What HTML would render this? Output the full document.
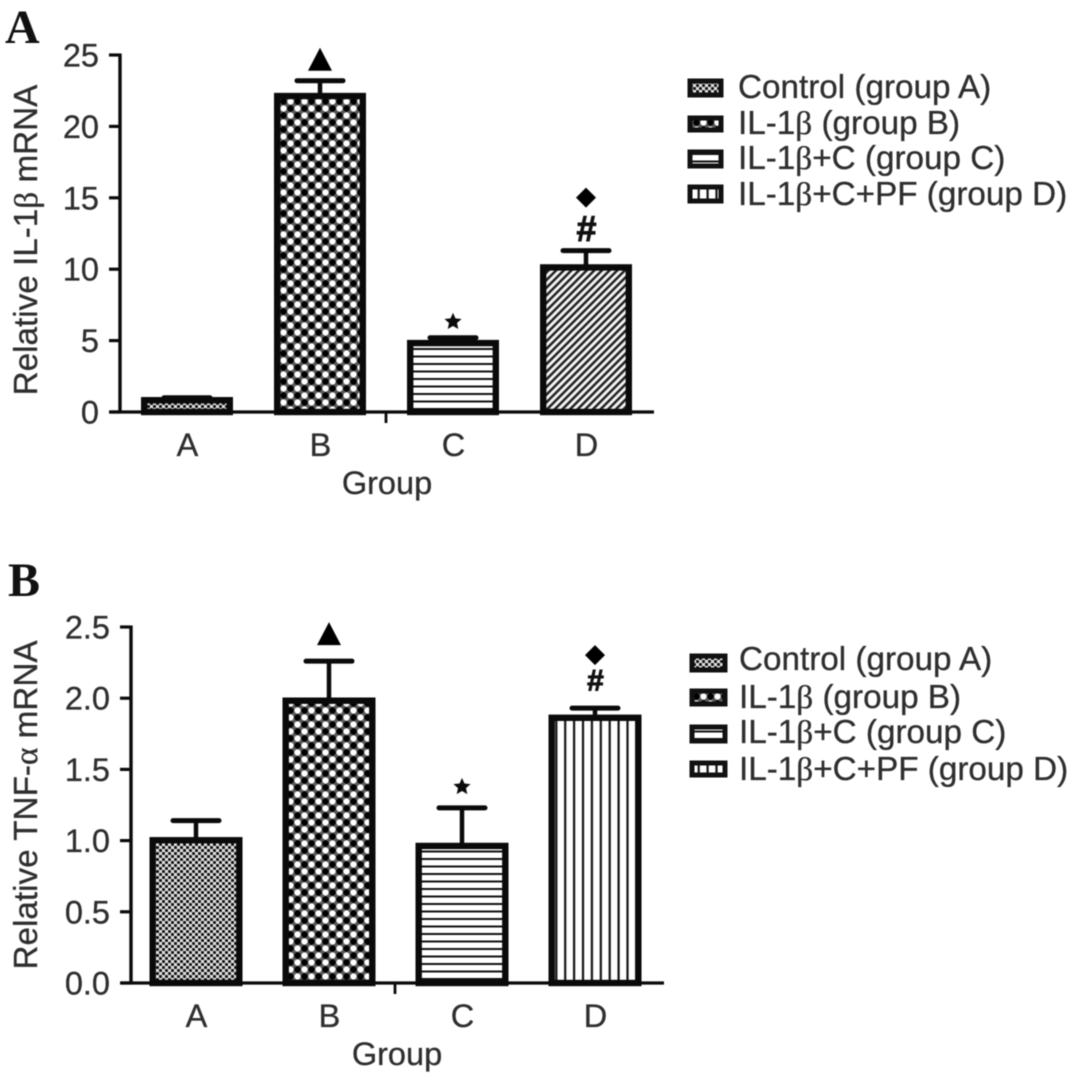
<!DOCTYPE html>
<html lang="en">
<head>
<meta charset="utf-8">
<title>Relative IL-1β and TNF-α mRNA by group</title>
<style>
html,body{margin:0;padding:0;background:#fff;}
svg{display:block;filter:blur(0.5px);}
text{font-family:"Liberation Sans",sans-serif;font-size:32.5px;fill:#2e2e2e;stroke:#2e2e2e;stroke-width:0.3px;}
.wide{font-size:33.25px;}
.serif{font-family:"Liberation Serif",serif;}
.letter{font-family:"Liberation Serif",serif;font-weight:bold;font-size:48px;fill:#111;stroke:none;}
</style>
</head>
<body>
<svg id="figure" xmlns="http://www.w3.org/2000/svg" width="1078" height="1085" viewBox="0 0 1078 1085">
<defs>
<pattern id="pat-fine" patternUnits="userSpaceOnUse" width="6" height="6">
<rect width="6" height="6" fill="#e6e6e6"/>
<circle cx="1.5" cy="1.5" r="1.6" fill="#111"/>
<circle cx="4.5" cy="4.5" r="1.6" fill="#111"/>
</pattern>
<pattern id="pat-coarse" patternUnits="userSpaceOnUse" width="14" height="14">
<rect width="14" height="14" fill="#5a5a5a"/>
<circle cx="10.5" cy="3.5" r="3.1" fill="#fff"/>
<circle cx="3.5" cy="10.5" r="3.1" fill="#fff"/>
<circle cx="3.5" cy="3.5" r="3.2" fill="#000"/>
<circle cx="10.5" cy="10.5" r="3.2" fill="#000"/>
</pattern>
<pattern id="pat-horizontal" patternUnits="userSpaceOnUse" width="8" height="7.5">
<rect width="8" height="7.5" fill="#fff"/>
<rect y="3" width="8" height="2" fill="#111"/>
</pattern>
<pattern id="pat-diagonal" patternUnits="userSpaceOnUse" width="5.4" height="5.4" patternTransform="rotate(45)">
<rect width="5.4" height="5.4" fill="#f4f4f4"/>
<rect width="2.5" height="5.4" fill="#222"/>
</pattern>
<pattern id="pat-vertical" patternUnits="userSpaceOnUse" width="8.9" height="8">
<rect width="8.9" height="8" fill="#fff"/>
<rect x="3.4" width="2.2" height="8" fill="#111"/>
</pattern>
</defs>

<g id="panel-a">
<text class="letter" x="5" y="43">A</text>
<text class="wide" transform="translate(37,240) rotate(-90)" text-anchor="middle">Relative IL-1<tspan class="serif">β</tspan> mRNA</text>
<text x="387" y="494" text-anchor="middle">Group</text>
<g>
<rect x="690" y="81" width="31" height="14" fill="url(#pat-fine)" stroke="#111" stroke-width="5"/>
<text class="wide" x="738" y="98">Control (group A)</text>
<rect x="690" y="118" width="31" height="12" fill="url(#pat-coarse)" stroke="#111" stroke-width="5"/>
<text class="wide" x="738" y="134">IL-1<tspan class="serif">β</tspan> (group B)</text>
<rect x="690" y="152" width="31" height="14" fill="url(#pat-horizontal)" stroke="#111" stroke-width="5"/>
<text class="wide" x="738" y="169">IL-1<tspan class="serif">β</tspan>+C (group C)</text>
<rect x="690" y="187" width="31" height="14" fill="url(#pat-vertical)" stroke="#111" stroke-width="5"/>
<text class="wide" x="738" y="205">IL-1<tspan class="serif">β</tspan>+C+PF (group D)</text>
</g>
</g>

<g id="panel-b">
<text class="letter" x="8" y="596">B</text>
<text class="wide" transform="translate(37,805) rotate(-90)" text-anchor="middle">Relative TNF-<tspan class="serif">α</tspan> mRNA</text>
<text x="397" y="1065" text-anchor="middle">Group</text>
<g>
<rect x="692" y="656" width="33" height="14" fill="url(#pat-fine)" stroke="#111" stroke-width="5"/>
<text class="wide" x="739" y="670">Control (group A)</text>
<rect x="692" y="691" width="33" height="13" fill="url(#pat-coarse)" stroke="#111" stroke-width="5"/>
<text class="wide" x="739" y="708">IL-1<tspan class="serif">β</tspan> (group B)</text>
<rect x="692" y="727" width="33" height="14" fill="url(#pat-horizontal)" stroke="#111" stroke-width="5"/>
<text class="wide" x="739" y="743">IL-1<tspan class="serif">β</tspan>+C (group C)</text>
<rect x="692" y="763" width="33" height="12" fill="url(#pat-vertical)" stroke="#111" stroke-width="5"/>
<text class="wide" x="739" y="780">IL-1<tspan class="serif">β</tspan>+C+PF (group D)</text>
</g>
</g>
</svg>

<script>
// Chart data
const categories = ["A", "B", "C", "D"];
const il1bValues = [1.0, 22.3, 5.0, 10.3];
const il1bErrors = [0, 0.9, 0.2, 1.0];
const il1bTickValues = [0, 5, 10, 15, 20, 25];
const il1bTickLabels = ["0", "5", "10", "15", "20", "25"];
const il1bFills = ["pat-fine", "pat-coarse", "pat-horizontal", "pat-diagonal"];
const tnfValues = [1.02, 2.0, 0.98, 1.88];
const tnfErrors = [0.12, 0.26, 0.25, 0.05];
const tnfTickValues = [0, 0.5, 1.0, 1.5, 2.0, 2.5];
const tnfTickLabels = ["0.0", "0.5", "1.0", "1.5", "2.0", "2.5"];
const tnfFills = ["pat-fine", "pat-coarse", "pat-horizontal", "pat-vertical"];

const SVG_NS = "http://www.w3.org/2000/svg";

function make(parent, tag, attrs) {
  const node = document.createElementNS(SVG_NS, tag);
  for (const key in attrs) node.setAttribute(key, attrs[key]);
  parent.appendChild(node);
  return node;
}

function drawPanel(parent, cfg) {
  const yScale = v => cfg.yZero - (v / cfg.yMax) * (cfg.yZero - cfg.yTop);
  const xScale = i => cfg.firstCenter + i * cfg.step;
  const ink = "#0a0a0a";

  const barsGroup = make(parent, "g", {});
  
  

  cfg.values.forEach((value, i) => {
    const cx = xScale(i);
    const top = yScale(value);
    const capY = yScale(value + cfg.errors[i]);

    const stem = make(barsGroup, "line", {x1: cx, x2: cx, y1: capY, y2: top, stroke: ink, "stroke-width": 4.5});
    
    

    const cap = make(barsGroup, "line", {x1: cx - 23, x2: cx + 23, y1: capY, y2: capY, stroke: ink, "stroke-width": 5, "stroke-linecap": "round"});
    
    

    const bar = make(barsGroup, "rect", {
      x: cx - cfg.barWidth / 2 + 3.2,
      y: top + 2.5,
      width: cfg.barWidth - 6.4,
      height: cfg.yZero - top - 2.5,
      fill: "url(#" + cfg.fills[i] + ")",
      stroke: ink,
      "stroke-width": 6.4
    });
    
    

    const label = make(parent, "text", {x: cx + 0.5, y: cfg.yZero + 44, "text-anchor": "middle"});
    label.textContent = categories[i];
    
    
  });

  const yAxis = make(parent, "line", {x1: cfg.axisX, x2: cfg.axisX, y1: yScale(cfg.yMax) - 1.5, y2: cfg.yZero, stroke: ink, "stroke-width": 3.4});
  
  

  const xAxis = make(parent, "line", {x1: cfg.axisX - 10, x2: cfg.axisEnd, y1: cfg.yZero, y2: cfg.yZero, stroke: ink, "stroke-width": 3.2});
  
  

  const midTick = make(parent, "line", {x1: cfg.midTickX, x2: cfg.midTickX, y1: cfg.yZero, y2: cfg.yZero + 11, stroke: ink, "stroke-width": 2.8});
  
  

  cfg.tickValues.forEach((tick, i) => {
    const y = yScale(tick);
    const mark = make(parent, "line", {x1: cfg.axisX - 11, x2: cfg.axisX, y1: y, y2: y, stroke: ink, "stroke-width": 3.2});
    
    

    const label = make(parent, "text", {x: cfg.axisX - 21, y: y + 11.5, "text-anchor": "end"});
    label.textContent = cfg.tickLabels[i];
    
    
  });

  // Significance markers sit relative to each bar's error cap
  const capOf = i => yScale(cfg.values[i] + cfg.errors[i]);

  const triCx = xScale(1);
  const triBase = capOf(1) - cfg.triangleGap;
  const triangle = make(parent, "polygon", {
    points: (triCx - 12) + "," + triBase + " " + (triCx + 12) + "," + triBase + " " + triCx + "," + (triBase - 23),
    fill: "#000"
  });
  
  

  const starCx = xScale(2);
  const starCy = capOf(2) - cfg.starGap;
  const starPts = [];
  for (let k = 0; k < 10; k++) {
    const r = k % 2 === 0 ? 9 : 4.2;
    const a = -Math.PI / 2 + k * Math.PI / 5;
    starPts.push((starCx + r * Math.cos(a)) + "," + (starCy + r * Math.sin(a)));
  }
  const star = make(parent, "polygon", {points: starPts.join(" "), fill: "#0a0a0a"});
  
  

  const hash = make(parent, "text", {
    x: xScale(3) + 0.5,
    y: capOf(3) - cfg.hashGap + cfg.hashSize * 0.35,
    "text-anchor": "middle",
    style: "font-size:" + cfg.hashSize + "px;fill:#111;stroke:#111;stroke-width:0.9px;font-weight:bold"
  });
  hash.textContent = "#";
  
  

  const dCx = xScale(3);
  const dCy = capOf(3) - cfg.diamondGap;
  const diamond = make(parent, "polygon", {
    points: dCx + "," + (dCy - 10) + " " + (dCx + 10) + "," + dCy + " " + dCx + "," + (dCy + 10) + " " + (dCx - 10) + "," + dCy,
    fill: "#000"
  });
  
  
}

drawPanel(document.getElementById("panel-a"), {
  values: il1bValues, errors: il1bErrors, tickValues: il1bTickValues, tickLabels: il1bTickLabels, fills: il1bFills,
  yZero: 412, yTop: 55, yMax: 25, axisX: 120, axisEnd: 654, midTickX: 386,
  firstCenter: 187, step: 133, barWidth: 92,
  triangleGap: 10, starGap: 16, hashGap: 22, hashSize: 36, diamondGap: 53
});

drawPanel(document.getElementById("panel-b"), {
  values: tnfValues, errors: tnfErrors, tickValues: tnfTickValues, tickLabels: tnfTickLabels, fills: tnfFills,
  yZero: 983, yTop: 627, yMax: 2.5, axisX: 131, axisEnd: 664, midTickX: 395,
  firstCenter: 196, step: 133, barWidth: 93,
  triangleGap: 16, starGap: 21, hashGap: 28, hashSize: 30, diamondGap: 53
});
</script>
</body>
</html>
